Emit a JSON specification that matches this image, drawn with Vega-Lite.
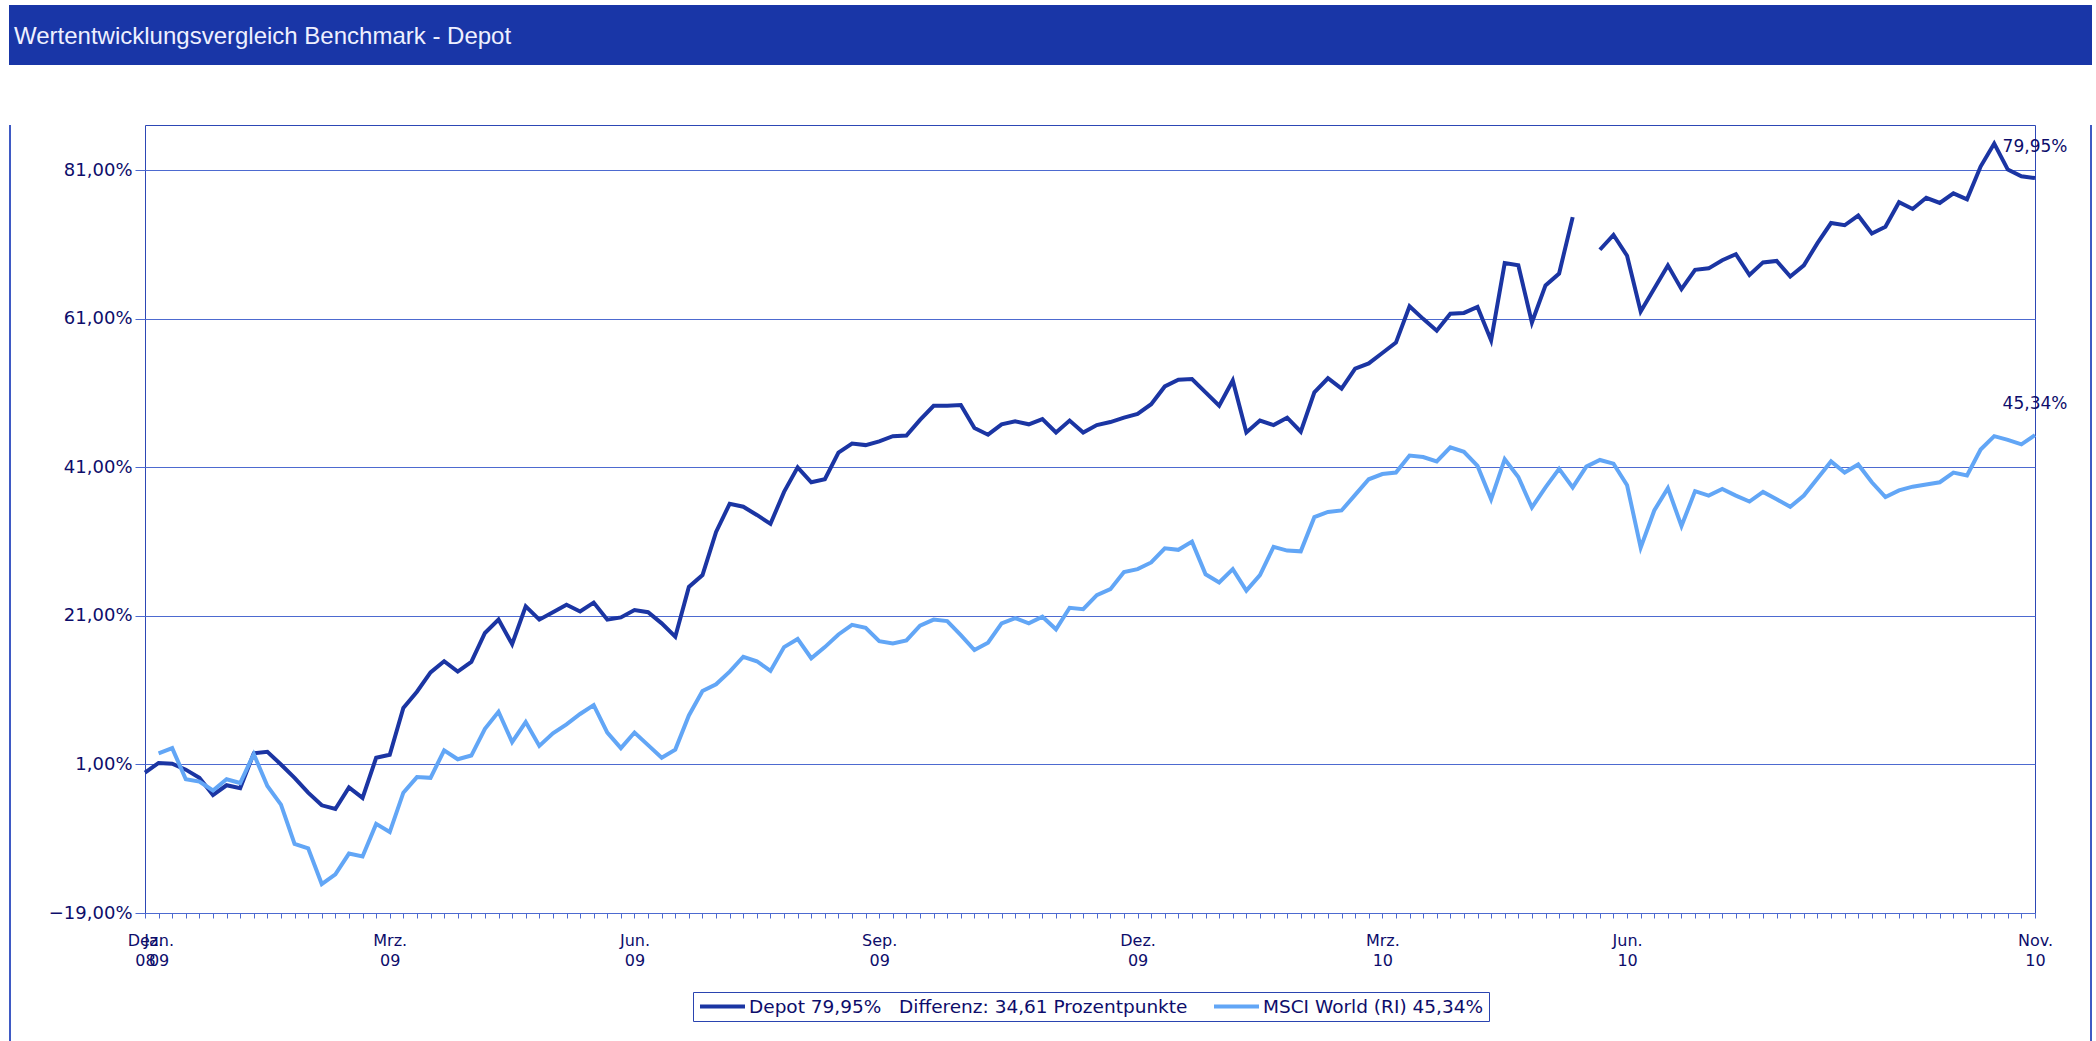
{
  "$schema": "https://vega.github.io/schema/vega-lite/v6.json",
  "background": "white",
  "padding": {"left": 7, "top": 5, "right": 0, "bottom": 0},
  "spacing": 60,
  "bounds": "flush",
  "config": {"view": {"stroke": null}},
  "vconcat": [
    {
      "width": 2083,
      "height": 60,
      "view": {"fill": "#1936a7", "stroke": null},
      "title": {
        "text": "Wertentwicklungsvergleich Benchmark - Depot",
        "anchor": "start",
        "orient": "top",
        "frame": "group",
        "offset": -63,
        "baseline": "alphabetic",
        "dx": 5,
        "font": "Liberation Sans",
        "fontSize": 24,
        "fontWeight": "normal",
        "color": "#eef0ff"
      },
      "data": {"values": [{}]},
      "mark": {"type": "point", "opacity": 0}
    },
    {
      "spacing": 0,
      "bounds": "flush",
      "hconcat": [
        {
          "width": 2,
          "height": 916,
          "view": {"fill": "#3f5ac4", "stroke": null},
          "data": {"values": [{}]},
          "mark": {"type": "point", "opacity": 0}
        },
        {
          "width": 134,
          "height": 916,
          "view": {"stroke": null},
          "data": {"values": [{}]},
          "mark": {"type": "point", "opacity": 0}
        },
        {
          "width": 1890,
          "height": 788,
          "view": {"stroke": "#2d47b5", "strokeWidth": 1},
          "layer": [
            {
              "data": {
                "values": [
                  {"d": "2008-12-31", "Depot": -0.1, "MSCI": null},
                  {"d": "2009-01-05", "Depot": 1.2, "MSCI": 2.5},
                  {"d": "2009-01-10", "Depot": 1.1, "MSCI": 3.2},
                  {"d": "2009-01-15", "Depot": 0.3, "MSCI": -1.0},
                  {"d": "2009-01-20", "Depot": -0.8, "MSCI": -1.3},
                  {"d": "2009-01-25", "Depot": -3.1, "MSCI": -2.5},
                  {"d": "2009-01-30", "Depot": -1.8, "MSCI": -1.0},
                  {"d": "2009-02-04", "Depot": -2.2, "MSCI": -1.5},
                  {"d": "2009-02-09", "Depot": 2.5, "MSCI": 2.4},
                  {"d": "2009-02-14", "Depot": 2.7, "MSCI": -1.9},
                  {"d": "2009-02-19", "Depot": 1.0, "MSCI": -4.4},
                  {"d": "2009-02-24", "Depot": -0.8, "MSCI": -9.7},
                  {"d": "2009-03-01", "Depot": -2.8, "MSCI": -10.3},
                  {"d": "2009-03-06", "Depot": -4.5, "MSCI": -15.1},
                  {"d": "2009-03-11", "Depot": -5.0, "MSCI": -13.8},
                  {"d": "2009-03-16", "Depot": -2.1, "MSCI": -11.0},
                  {"d": "2009-03-21", "Depot": -3.5, "MSCI": -11.4},
                  {"d": "2009-03-26", "Depot": 1.9, "MSCI": -7.0},
                  {"d": "2009-03-31", "Depot": 2.3, "MSCI": -8.1},
                  {"d": "2009-04-05", "Depot": 8.6, "MSCI": -2.8},
                  {"d": "2009-04-10", "Depot": 10.8, "MSCI": -0.7},
                  {"d": "2009-04-15", "Depot": 13.4, "MSCI": -0.8},
                  {"d": "2009-04-20", "Depot": 14.9, "MSCI": 2.9},
                  {"d": "2009-04-25", "Depot": 13.5, "MSCI": 1.7},
                  {"d": "2009-04-30", "Depot": 14.8, "MSCI": 2.2},
                  {"d": "2009-05-05", "Depot": 18.7, "MSCI": 5.8},
                  {"d": "2009-05-10", "Depot": 20.5, "MSCI": 8.1},
                  {"d": "2009-05-15", "Depot": 17.2, "MSCI": 4.0},
                  {"d": "2009-05-20", "Depot": 22.3, "MSCI": 6.7},
                  {"d": "2009-05-25", "Depot": 20.5, "MSCI": 3.5},
                  {"d": "2009-05-30", "Depot": 21.5, "MSCI": 5.2},
                  {"d": "2009-06-04", "Depot": 22.5, "MSCI": 6.4},
                  {"d": "2009-06-09", "Depot": 21.6, "MSCI": 7.8},
                  {"d": "2009-06-14", "Depot": 22.8, "MSCI": 9.0},
                  {"d": "2009-06-19", "Depot": 20.5, "MSCI": 5.3},
                  {"d": "2009-06-24", "Depot": 20.8, "MSCI": 3.2},
                  {"d": "2009-06-29", "Depot": 21.8, "MSCI": 5.3},
                  {"d": "2009-07-04", "Depot": 21.5, "MSCI": 3.6},
                  {"d": "2009-07-09", "Depot": 20.0, "MSCI": 1.9},
                  {"d": "2009-07-14", "Depot": 18.2, "MSCI": 3.0},
                  {"d": "2009-07-19", "Depot": 24.9, "MSCI": 7.6},
                  {"d": "2009-07-24", "Depot": 26.5, "MSCI": 10.9},
                  {"d": "2009-07-29", "Depot": 32.3, "MSCI": 11.8},
                  {"d": "2009-08-03", "Depot": 36.1, "MSCI": 13.5},
                  {"d": "2009-08-08", "Depot": 35.7, "MSCI": 15.5},
                  {"d": "2009-08-13", "Depot": 34.6, "MSCI": 14.9},
                  {"d": "2009-08-18", "Depot": 33.4, "MSCI": 13.6},
                  {"d": "2009-08-23", "Depot": 37.7, "MSCI": 16.8},
                  {"d": "2009-08-28", "Depot": 41.0, "MSCI": 17.9},
                  {"d": "2009-09-02", "Depot": 39.0, "MSCI": 15.3},
                  {"d": "2009-09-07", "Depot": 39.4, "MSCI": 16.8},
                  {"d": "2009-09-12", "Depot": 43.0, "MSCI": 18.5},
                  {"d": "2009-09-17", "Depot": 44.2, "MSCI": 19.8},
                  {"d": "2009-09-22", "Depot": 44.0, "MSCI": 19.4},
                  {"d": "2009-09-27", "Depot": 44.5, "MSCI": 17.6},
                  {"d": "2009-10-02", "Depot": 45.2, "MSCI": 17.3},
                  {"d": "2009-10-07", "Depot": 45.3, "MSCI": 17.7},
                  {"d": "2009-10-12", "Depot": 47.4, "MSCI": 19.7},
                  {"d": "2009-10-17", "Depot": 49.3, "MSCI": 20.5},
                  {"d": "2009-10-22", "Depot": 49.3, "MSCI": 20.3},
                  {"d": "2009-10-27", "Depot": 49.4, "MSCI": 18.4},
                  {"d": "2009-11-01", "Depot": 46.3, "MSCI": 16.4},
                  {"d": "2009-11-06", "Depot": 45.4, "MSCI": 17.4},
                  {"d": "2009-11-11", "Depot": 46.8, "MSCI": 20.0},
                  {"d": "2009-11-16", "Depot": 47.2, "MSCI": 20.7},
                  {"d": "2009-11-21", "Depot": 46.8, "MSCI": 20.0},
                  {"d": "2009-11-26", "Depot": 47.5, "MSCI": 20.9},
                  {"d": "2009-12-01", "Depot": 45.7, "MSCI": 19.2},
                  {"d": "2009-12-06", "Depot": 47.3, "MSCI": 22.1},
                  {"d": "2009-12-11", "Depot": 45.7, "MSCI": 21.9},
                  {"d": "2009-12-16", "Depot": 46.7, "MSCI": 23.8},
                  {"d": "2009-12-21", "Depot": 47.1, "MSCI": 24.6},
                  {"d": "2009-12-26", "Depot": 47.7, "MSCI": 26.9},
                  {"d": "2009-12-31", "Depot": 48.2, "MSCI": 27.3},
                  {"d": "2010-01-05", "Depot": 49.5, "MSCI": 28.2},
                  {"d": "2010-01-10", "Depot": 51.9, "MSCI": 30.1},
                  {"d": "2010-01-15", "Depot": 52.8, "MSCI": 29.9},
                  {"d": "2010-01-20", "Depot": 52.9, "MSCI": 31.0},
                  {"d": "2010-01-25", "Depot": 51.1, "MSCI": 26.6},
                  {"d": "2010-01-30", "Depot": 49.3, "MSCI": 25.5},
                  {"d": "2010-02-04", "Depot": 52.7, "MSCI": 27.3},
                  {"d": "2010-02-09", "Depot": 45.7, "MSCI": 24.4},
                  {"d": "2010-02-14", "Depot": 47.3, "MSCI": 26.5},
                  {"d": "2010-02-19", "Depot": 46.7, "MSCI": 30.3},
                  {"d": "2010-02-24", "Depot": 47.7, "MSCI": 29.8},
                  {"d": "2010-03-01", "Depot": 45.8, "MSCI": 29.7},
                  {"d": "2010-03-06", "Depot": 51.1, "MSCI": 34.3},
                  {"d": "2010-03-11", "Depot": 53.0, "MSCI": 35.0},
                  {"d": "2010-03-16", "Depot": 51.6, "MSCI": 35.2},
                  {"d": "2010-03-21", "Depot": 54.3, "MSCI": 37.3},
                  {"d": "2010-03-26", "Depot": 55.0, "MSCI": 39.4},
                  {"d": "2010-03-31", "Depot": 56.4, "MSCI": 40.1},
                  {"d": "2010-04-05", "Depot": 57.8, "MSCI": 40.3},
                  {"d": "2010-04-10", "Depot": 62.7, "MSCI": 42.6},
                  {"d": "2010-04-15", "Depot": 61.0, "MSCI": 42.4},
                  {"d": "2010-04-20", "Depot": 59.4, "MSCI": 41.8},
                  {"d": "2010-04-25", "Depot": 61.7, "MSCI": 43.7},
                  {"d": "2010-04-30", "Depot": 61.8, "MSCI": 43.1},
                  {"d": "2010-05-05", "Depot": 62.6, "MSCI": 41.2},
                  {"d": "2010-05-10", "Depot": 58.1, "MSCI": 36.7},
                  {"d": "2010-05-15", "Depot": 68.5, "MSCI": 42.1},
                  {"d": "2010-05-20", "Depot": 68.2, "MSCI": 39.7},
                  {"d": "2010-05-25", "Depot": 60.5, "MSCI": 35.6},
                  {"d": "2010-05-30", "Depot": 65.5, "MSCI": 38.3},
                  {"d": "2010-06-04", "Depot": 67.1, "MSCI": 40.8},
                  {"d": "2010-06-09", "Depot": 74.7, "MSCI": 38.3},
                  {"d": "2010-06-14", "Depot": null, "MSCI": 41.1},
                  {"d": "2010-06-19", "Depot": 70.3, "MSCI": 42.0},
                  {"d": "2010-06-24", "Depot": 72.3, "MSCI": 41.5},
                  {"d": "2010-06-29", "Depot": 69.5, "MSCI": 38.6},
                  {"d": "2010-07-04", "Depot": 62.0, "MSCI": 30.2},
                  {"d": "2010-07-09", "Depot": 65.1, "MSCI": 35.2},
                  {"d": "2010-07-14", "Depot": 68.2, "MSCI": 38.2},
                  {"d": "2010-07-19", "Depot": 65.0, "MSCI": 33.1},
                  {"d": "2010-07-24", "Depot": 67.6, "MSCI": 37.8},
                  {"d": "2010-07-29", "Depot": 67.8, "MSCI": 37.2},
                  {"d": "2010-08-03", "Depot": 68.9, "MSCI": 38.1},
                  {"d": "2010-08-08", "Depot": 69.7, "MSCI": 37.2},
                  {"d": "2010-08-13", "Depot": 66.9, "MSCI": 36.4},
                  {"d": "2010-08-18", "Depot": 68.6, "MSCI": 37.7},
                  {"d": "2010-08-23", "Depot": 68.8, "MSCI": 36.7},
                  {"d": "2010-08-28", "Depot": 66.7, "MSCI": 35.7},
                  {"d": "2010-09-02", "Depot": 68.2, "MSCI": 37.2},
                  {"d": "2010-09-07", "Depot": 71.2, "MSCI": 39.5},
                  {"d": "2010-09-12", "Depot": 73.9, "MSCI": 41.8},
                  {"d": "2010-09-17", "Depot": 73.6, "MSCI": 40.3},
                  {"d": "2010-09-22", "Depot": 74.9, "MSCI": 41.4},
                  {"d": "2010-09-27", "Depot": 72.5, "MSCI": 39.0},
                  {"d": "2010-10-02", "Depot": 73.4, "MSCI": 37.0},
                  {"d": "2010-10-07", "Depot": 76.7, "MSCI": 37.9},
                  {"d": "2010-10-12", "Depot": 75.8, "MSCI": 38.4},
                  {"d": "2010-10-17", "Depot": 77.3, "MSCI": 38.7},
                  {"d": "2010-10-22", "Depot": 76.6, "MSCI": 39.0},
                  {"d": "2010-10-27", "Depot": 77.9, "MSCI": 40.3},
                  {"d": "2010-11-01", "Depot": 77.1, "MSCI": 39.9},
                  {"d": "2010-11-06", "Depot": 81.5, "MSCI": 43.4},
                  {"d": "2010-11-11", "Depot": 84.6, "MSCI": 45.2},
                  {"d": "2010-11-16", "Depot": 81.1, "MSCI": 44.7},
                  {"d": "2010-11-21", "Depot": 80.2, "MSCI": 44.1},
                  {"d": "2010-11-26", "Depot": 79.95, "MSCI": 45.34}
                ]
              },
              "transform": [{"fold": ["Depot", "MSCI"], "as": ["s", "v"]}],
              "mark": {"type": "line", "strokeWidth": 4, "invalid": "break-paths-show-domains"},
              "encoding": {
                "x": {
                  "field": "d",
                  "type": "ordinal",
                  "scale": {"type": "point", "padding": 0},
                  "axis": {
                    "title": null,
                    "labelAngle": 0,
                    "labelOverlap": false,
                    "labelExpr": "({'2008-12-31':['Dez.','08'],'2009-01-05':['Jan.','09'],'2009-03-31':['Mrz.','09'],'2009-06-29':['Jun.','09'],'2009-09-27':['Sep.','09'],'2009-12-31':['Dez.','09'],'2010-03-31':['Mrz.','10'],'2010-06-29':['Jun.','10'],'2010-11-26':['Nov.','10']})[datum.value] || ''",
                    "labelFont": "DejaVu Sans",
                    "labelFontSize": 16,
                    "labelColor": "#0d0d6b",
                    "labelLineHeight": 20,
                    "labelBaseline": "top",
                    "labelPadding": 14,
                    "tickSize": 5,
                    "tickColor": "#4d6ad0",
                    "domain": false,
                    "grid": false
                  }
                },
                "y": {
                  "field": "v",
                  "type": "quantitative",
                  "scale": {"domain": [-19, 87.1], "nice": false, "zero": false},
                  "axis": {
                    "title": null,
                    "values": [-19, 1, 21, 41, 61, 81],
                    "labelExpr": "replace(format(datum.value, '.2f'), '.', ',') + '%'",
                    "labelFont": "DejaVu Sans",
                    "labelFontSize": 18,
                    "labelColor": "#0d0d6b",
                    "labelPadding": 3,
                    "tickSize": 10,
                    "tickColor": "#4d6ad0",
                    "grid": true,
                    "gridColor": "#4d6ad0",
                    "gridWidth": 1,
                    "domain": false
                  }
                },
                "color": {
                  "field": "s",
                  "type": "nominal",
                  "scale": {"domain": ["Depot", "MSCI"], "range": ["#1b35a3", "#62a6f6"]},
                  "legend": {
                    "orient": "none",
                    "legendX": 684,
                    "legendY": 987,
                    "direction": "horizontal",
                    "title": null,
                    "strokeColor": "#2a44b0",
                    "fillColor": "white",
                    "padding": 5,
                    "symbolType": "M-3,0H3",
                    "symbolSize": 225,
                    "symbolOffset": 15,
                    "symbolStrokeWidth": 4,
                    "labelOffset": 17,
                    "columnPadding": 18,
                    "labelLimit": 700,
                    "labelFont": "DejaVu Sans",
                    "labelFontSize": 18.5,
                    "labelColor": "#0d0d6b",
                    "labelExpr": "datum.label == 'Depot' ? 'Depot 79,95%\u00a0\u00a0\u00a0Differenz: 34,61 Prozentpunkte' : 'MSCI World (RI) 45,34%'"
                  }
                }
              }
            },
            {
              "data": {
                "values": [
                  {"d": "2010-11-26", "v": 79.95, "t": "79,95%"},
                  {"d": "2010-11-26", "v": 45.34, "t": "45,34%"}
                ]
              },
              "mark": {
                "type": "text",
                "align": "center",
                "baseline": "alphabetic",
                "dy": -26,
                "font": "DejaVu Sans",
                "fontSize": 17,
                "color": "#0d0d6b"
              },
              "encoding": {
                "x": {"field": "d", "type": "ordinal"},
                "y": {"field": "v", "type": "quantitative", "scale": {"domain": [-19, 87.1], "nice": false, "zero": false}},
                "text": {"field": "t"}
              }
            }
          ]
        },
        {
          "width": 55,
          "height": 916,
          "view": {"stroke": null},
          "data": {"values": [{}]},
          "mark": {"type": "point", "opacity": 0}
        },
        {
          "width": 2,
          "height": 916,
          "view": {"fill": "#3f5ac4", "stroke": null},
          "data": {"values": [{}]},
          "mark": {"type": "point", "opacity": 0}
        }
      ]
    }
  ]
}
